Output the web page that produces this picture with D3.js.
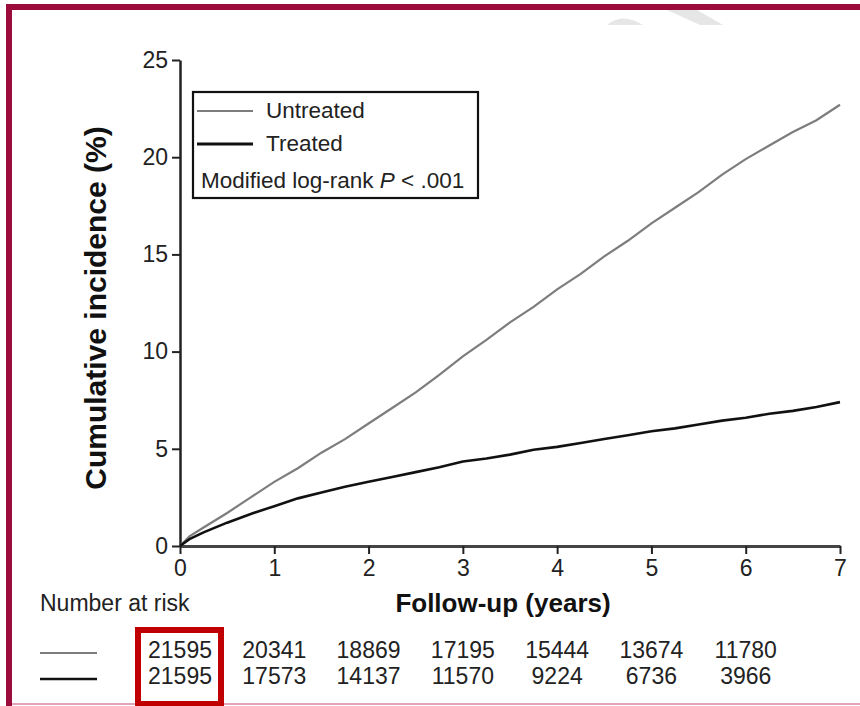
<!DOCTYPE html>
<html>
<head>
<meta charset="utf-8">
<script src="https://cdn.jsdelivr.net/npm/d3@7"></script>
<style>
  body { margin: 0; background: #fff; }
  svg { display: block; font-family: "Liberation Sans", Arial, Helvetica, sans-serif; }
</style>
</head>
<body>
<svg id="canvas" width="860" height="706"></svg>
<script>
// follow-up times (years)
let times = [0, 0.1, 0.25, 0.5, 0.75, 1, 1.25, 1.5, 1.75, 2, 2.25, 2.5, 2.75, 3, 3.25, 3.5, 3.75, 4, 4.25, 4.5, 4.75, 5, 5.25, 5.5, 5.75, 6, 6.25, 6.5, 6.75, 7]

// cumulative incidence (%)
let untreated = [0, 0.5, 0.95, 1.7, 2.5, 3.3, 4.0, 4.8, 5.5, 6.3, 7.1, 7.9, 8.8, 9.75, 10.6, 11.5, 12.3, 13.2, 14.0, 14.9, 15.7, 16.6, 17.4, 18.2, 19.1, 19.9, 20.6, 21.3, 21.9, 22.7]
let treated = [0, 0.35, 0.7, 1.2, 1.65, 2.05, 2.45, 2.75, 3.05, 3.3, 3.55, 3.8, 4.05, 4.35, 4.5, 4.7, 4.95, 5.1, 5.3, 5.5, 5.7, 5.9, 6.05, 6.25, 6.45, 6.6, 6.8, 6.95, 7.15, 7.4]

// number at risk
let riskYears = [0, 1, 2, 3, 4, 5, 6]
let riskUntreated = [21595, 20341, 18869, 17195, 15444, 13674, 11780]
let riskTreated = [21595, 17573, 14137, 11570, 9224, 6736, 3966]

let xTicks = [0, 1, 2, 3, 4, 5, 6, 7]
let yTicks = [0, 5, 10, 15, 20, 25]

let canvas = d3.select('#canvas')

let xScale = d3.scaleLinear().domain([0, 7]).range([180, 840])
let yScale = d3.scaleLinear().domain([0, 25]).range([546, 60])

// frame
canvas.append('rect').attr('x', 6).attr('y', 4).attr('width', 854).attr('height', 6).attr('fill', '#9b0b3b')
canvas.append('rect').attr('x', 6).attr('y', 4).attr('width', 6).attr('height', 702).attr('fill', '#9b0b3b')
canvas.append('line').attr('x1', 12).attr('x2', 860).attr('y1', 704).attr('y2', 704)
  .attr('stroke', '#e2a6b8').attr('stroke-width', 2)

// faint watermark
canvas.append('path').attr('d', 'M607,25 Q622,12 643,25 Z').attr('fill', '#e6e6e6')
canvas.append('path').attr('d', 'M667,10 L697,10 L723,25 L700,25 Z').attr('fill', '#e6e6e6')

// axes
let yAxis = canvas.append('g')
  .attr('transform', 'translate(180,0)')
  .call(d3.axisLeft(yScale).tickValues(yTicks).tickSize(8).tickPadding(4).tickSizeOuter(0).tickFormat(d3.format('d')))
yAxis.select('.domain').attr('stroke', '#222').attr('stroke-width', 2.5)
yAxis.selectAll('.tick line').attr('stroke', '#222').attr('stroke-width', 2)
yAxis.selectAll('text').attr('font-size', 23).attr('fill', '#222').attr('font-family', null)

let xAxis = canvas.append('g')
  .attr('transform', 'translate(0,546)')
  .call(d3.axisBottom(xScale).tickValues(xTicks).tickSize(8).tickPadding(6).tickSizeOuter(0).tickFormat(d3.format('d')))
xAxis.select('.domain').attr('stroke', '#444').attr('stroke-width', 3)
xAxis.selectAll('.tick line').attr('stroke', '#222').attr('stroke-width', 2)
xAxis.selectAll('text').attr('font-size', 23).attr('fill', '#222').attr('font-family', null)

// axis titles
canvas.append('text')
  .attr('transform', 'translate(106,308) rotate(-90)')
  .attr('text-anchor', 'middle')
  .attr('font-size', 30).attr('font-weight', 'bold').attr('fill', '#111')
  .text('Cumulative incidence (%)')

canvas.append('text')
  .attr('x', 503).attr('y', 612)
  .attr('text-anchor', 'middle')
  .attr('font-size', 26).attr('font-weight', 'bold').attr('fill', '#111')
  .text('Follow-up (years)')

// curves
let line = d3.line()
  .x((d, i) => xScale(times[i]))
  .y(d => yScale(d))

canvas.append('path').datum(untreated)
  .attr('d', line).attr('fill', 'none')
  .attr('stroke', '#7d7d7d').attr('stroke-width', 2.2)

canvas.append('path').datum(treated)
  .attr('d', line).attr('fill', 'none')
  .attr('stroke', '#111').attr('stroke-width', 2.6)

// legend
let legend = canvas.append('g')
legend.append('rect').attr('x', 193).attr('y', 92).attr('width', 285).attr('height', 106)
  .attr('fill', '#fff').attr('stroke', '#111').attr('stroke-width', 2.2)
legend.append('line').attr('x1', 197).attr('x2', 253).attr('y1', 111).attr('y2', 111)
  .attr('stroke', '#7d7d7d').attr('stroke-width', 2)
legend.append('text').attr('x', 266).attr('y', 118).attr('font-size', 22.5).attr('fill', '#222').text('Untreated')
legend.append('line').attr('x1', 197).attr('x2', 253).attr('y1', 144).attr('y2', 144)
  .attr('stroke', '#111').attr('stroke-width', 3)
legend.append('text').attr('x', 266).attr('y', 151).attr('font-size', 22.5).attr('fill', '#222').text('Treated')
let pText = legend.append('text').attr('x', 201).attr('y', 188).attr('font-size', 22.5).attr('fill', '#222')
pText.append('tspan').text('Modified log-rank ')
pText.append('tspan').attr('font-style', 'italic').text('P')
pText.append('tspan').text(' < .001')

// number at risk
canvas.append('text').attr('x', 40).attr('y', 611).attr('font-size', 23).attr('fill', '#222').text('Number at risk')

canvas.append('line').attr('x1', 40).attr('x2', 97).attr('y1', 653).attr('y2', 653)
  .attr('stroke', '#7d7d7d').attr('stroke-width', 2)
canvas.append('line').attr('x1', 40).attr('x2', 97).attr('y1', 679).attr('y2', 679)
  .attr('stroke', '#111').attr('stroke-width', 2.5)

canvas.selectAll('.riskU').data(riskUntreated).enter().append('text')
  .attr('class', 'riskU')
  .attr('x', (d, i) => xScale(riskYears[i])).attr('y', 658)
  .attr('text-anchor', 'middle').attr('font-size', 23).attr('fill', '#222')
  .text(d => d)

canvas.selectAll('.riskT').data(riskTreated).enter().append('text')
  .attr('class', 'riskT')
  .attr('x', (d, i) => xScale(riskYears[i])).attr('y', 684)
  .attr('text-anchor', 'middle').attr('font-size', 23).attr('fill', '#222')
  .text(d => d)

// highlight box round the first column
canvas.append('rect').attr('x', 138).attr('y', 630).attr('width', 83).attr('height', 74)
  .attr('fill', 'none').attr('stroke', '#c00000').attr('stroke-width', 6)
</script>
</body>
</html>
